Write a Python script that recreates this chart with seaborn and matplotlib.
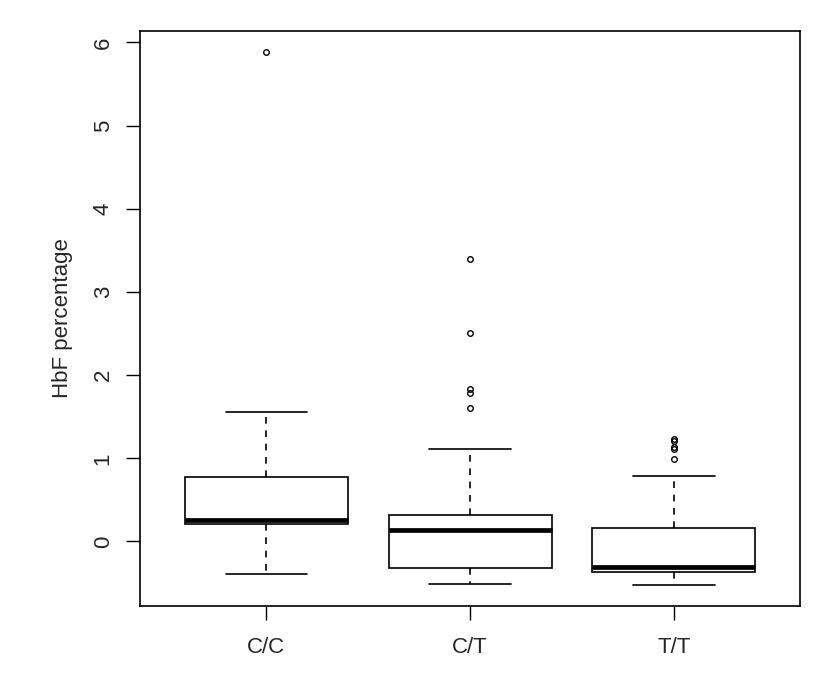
import matplotlib
matplotlib.use("Agg")
import matplotlib.pyplot as plt
import pandas as pd
import seaborn as sns

# genotype groups (R-style boxplot, Tukey 1.5 IQR whiskers)
genotypes = ["C/C", "C/T", "T/T"]

hbf_cc = [-0.39, 0.05, 0.21, 0.24, 0.256, 0.45, 0.78, 1.56, 5.88]
hbf_ct = [-0.513, -0.48, -0.45, -0.41, -0.37, -0.34,
          -0.32, -0.22, -0.12, -0.02, 0.06, 0.11,
          0.136, 0.17, 0.20, 0.24, 0.27, 0.30,
          0.32, 1.113, 1.61, 1.78, 1.83, 2.51, 3.39]
hbf_tt = [-0.525, -0.50, -0.47, -0.44, -0.41, -0.38,
          -0.365, -0.355, -0.345, -0.335, -0.325, -0.315,
          -0.31, -0.25, -0.15, -0.05, 0.05, 0.12,
          0.16, 0.79, 0.99, 1.11, 1.14, 1.21, 1.23]

yticks = [0, 1, 2, 3, 4, 5, 6]

df = pd.DataFrame({
    "genotype": ["C/C"] * len(hbf_cc) + ["C/T"] * len(hbf_ct) + ["T/T"] * len(hbf_tt),
    "hbf": hbf_cc + hbf_ct + hbf_tt,
})

sns.set_style("white")
plt.rcParams["font.family"] = ["Liberation Sans", "DejaVu Sans"]

fig = plt.figure(figsize=(8.35, 6.8), dpi=100)
ax = fig.add_axes([0.1677, 0.1088, 0.7905, 0.8456])

sns.boxplot(
    data=df, x="genotype", y="hbf", order=genotypes, ax=ax,
    color="white", linecolor="black", linewidth=1.2, width=0.8, whis=1.5,
    whiskerprops={"linestyle": (0, (4, 4))},
    medianprops={"linewidth": 3.4, "color": "black"},
    flierprops={"marker": "o", "markerfacecolor": "none",
                "markeredgecolor": "black", "markersize": 4,
                "markeredgewidth": 1},
)

ax.set_xlim(-0.62, 2.62)
ax.set_ylim(-0.776, 6.136)
ax.set_yticks(yticks)
ax.set_yticklabels([str(t) for t in yticks], rotation=90, va="center")
ax.set_xlabel("")
ax.set_ylabel("HbF percentage", fontsize=16, labelpad=14)

for s in ax.spines.values():
    s.set_visible(True)
    s.set_color("black")
    s.set_linewidth(1.2)

ax.tick_params(axis="both", direction="out", length=10, width=1,
               color="black", labelsize=16, pad=9, left=True, bottom=True)
ax.tick_params(axis="x", pad=12)

fig.savefig("out.png", dpi=100, facecolor="white")
